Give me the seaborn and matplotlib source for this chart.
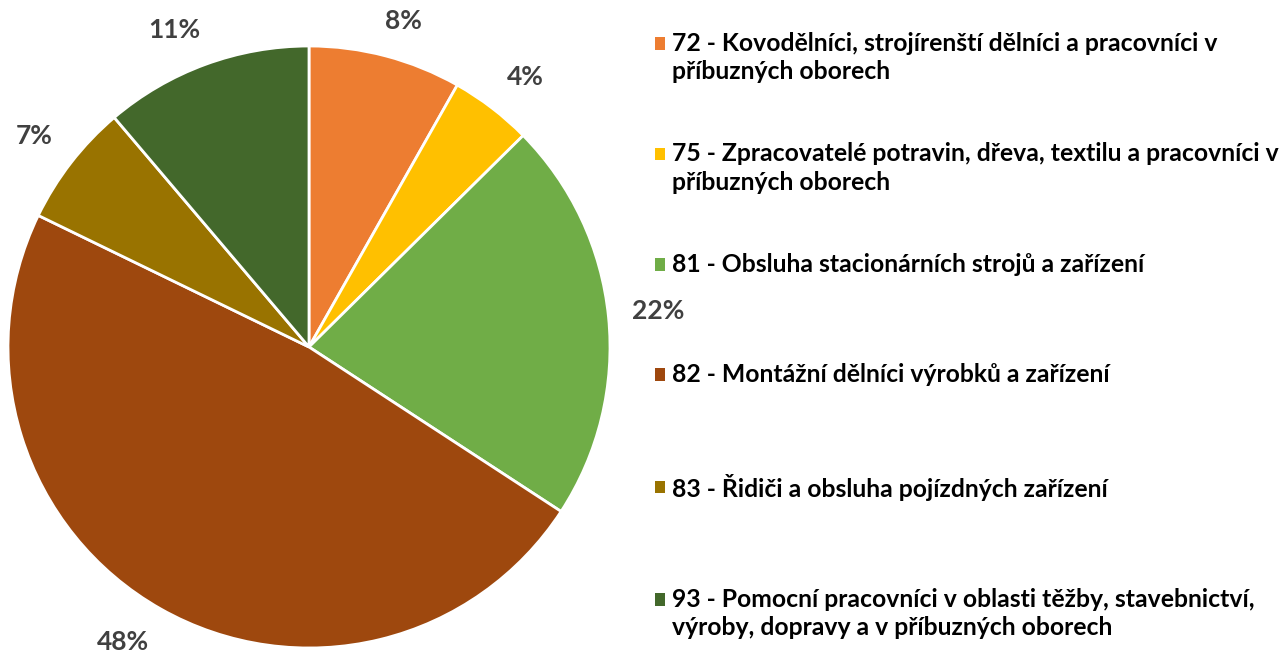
import matplotlib
matplotlib.use("Agg")
import numpy as np
import matplotlib.pyplot as plt
import seaborn as sns
from matplotlib.patches import Rectangle
from matplotlib.legend_handler import HandlerPatch

categories = [
    "72 - Kovodělníci, strojírenští dělníci a pracovníci v\npříbuzných oborech",
    "75 - Zpracovatelé potravin, dřeva, textilu a pracovníci v\npříbuzných oborech",
    "81 - Obsluha stacionárních strojů a zařízení",
    "82 - Montážní dělníci výrobků a zařízení",
    "83 - Řidiči a obsluha pojízdných zařízení",
    "93 - Pomocní pracovníci v oblasti těžby, stavebnictví,\nvýroby, dopravy a v příbuzných oborech",
]
shares = [8.2, 4.4, 21.6, 48.0, 6.6, 11.2]
colors = ["#ED7D31", "#FFC000", "#70AD47", "#9E480E", "#997300", "#43682B"]

sns.set_theme(style="white")
plt.rcParams["font.family"] = ["Lato", "DejaVu Sans"]

W, H = 1288, 656
fig = plt.figure(figsize=(W / 100, H / 100), dpi=100)
fig.patch.set_facecolor("white")

cx, cy, r = 309, 347, 301
ax = fig.add_axes([(cx - r) / W, (H - cy - r) / H, 2 * r / W, 2 * r / H])

palette = sns.color_palette(colors)
wedges, texts, autotexts = ax.pie(
    shares,
    colors=palette,
    startangle=90,
    counterclock=False,
    radius=1,
    autopct=lambda p: f"{p:.0f}%",
    pctdistance=1.15,
    wedgeprops=dict(edgecolor="white", linewidth=2),
    textprops=dict(fontsize=19, fontweight="bold", color="#404040"),
)
ax.set_xlim(-1, 1)
ax.set_ylim(-1, 1)
ax.set_aspect("equal")
ax.axis("off")

# place labels "outside end": text box just beyond the wedge edge at mid-angle
fig.canvas.draw()
renderer = fig.canvas.get_renderer()
p0, p1 = ax.transData.transform([(0, 0), (1, 0)])
ppu = p1[0] - p0[0]
gap = 24 / ppu
for w, t in zip(wedges, autotexts):
    ang = np.deg2rad((w.theta1 + w.theta2) / 2)
    ux, uy = np.cos(ang), np.sin(ang)
    bb = t.get_window_extent(renderer)
    tw, th = bb.width / ppu, bb.height / ppu
    fx, fy = np.clip(2.5 * ux, -1, 1), np.clip(2.5 * uy, -1, 1)
    t.set_ha("center")
    t.set_va("center")
    t.set_position(((1 + gap) * ux + tw / 2 * fx, (1 + gap) * uy + th / 2 * fy))
    t.set_clip_on(False)


def make_handler(nlines, pitch):
    def patch_func(legend, orig_handle, xdescent, ydescent, width, height, fontsize):
        shift = (nlines - 1) * pitch * fontsize
        return Rectangle((-xdescent, -ydescent + shift), width, height)
    return HandlerPatch(patch_func=patch_func)


# every legend entry occupies two lines, as in the reference layout
labels = [c if "\n" in c else c + "\n" for c in categories]
handles = [Rectangle((0, 0), 1, 1, facecolor=c, edgecolor="none") for c in palette]
hmap = {h: make_handler(2, 0.6) for h in handles}

fs = 17.8
leg = fig.legend(
    handles,
    labels,
    handler_map=hmap,
    loc="upper left",
    bbox_to_anchor=(655 / W, 1 - 32 / H),
    frameon=False,
    borderpad=0,
    borderaxespad=0,
    prop=dict(weight="bold", size=fs),
    handlelength=0.4,
    handleheight=0.4,
    handletextpad=0.28,
    labelspacing=2.39,
    labelcolor="black",
)
for t in leg.get_texts():
    t.set_linespacing(1.28)

fig.savefig("out.png", dpi=100, facecolor="white")
